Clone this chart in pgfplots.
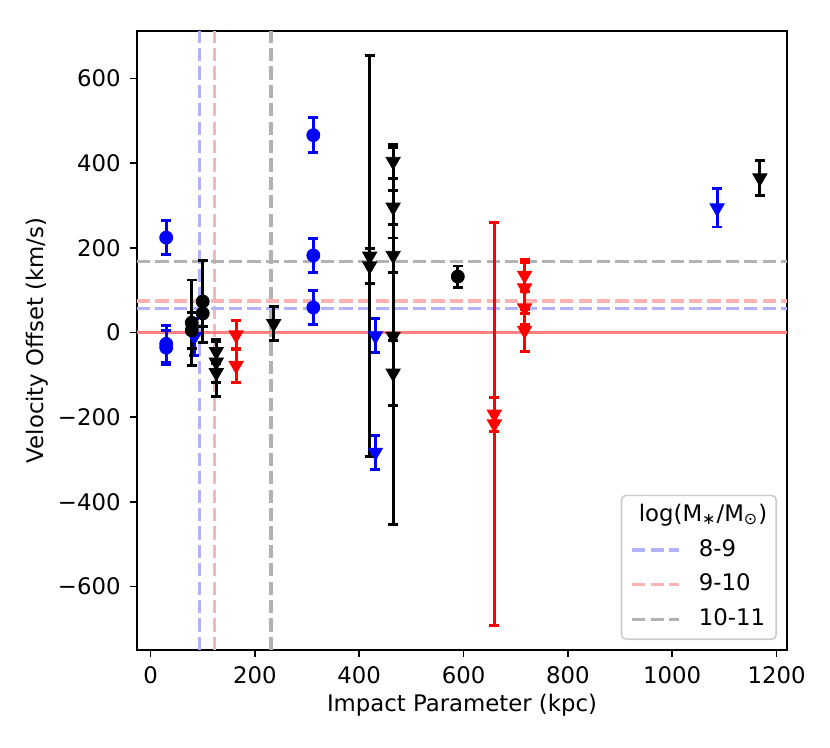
\documentclass[border=0pt]{standalone}
\usepackage{fontspec}
\setmainfont{DejaVu Sans}
\usepackage{pgfplots}
\pgfplotsset{compat=1.18}
\definecolor{lblue}{rgb}{0.7,0.7,1}
\definecolor{lred}{rgb}{1,0.7,0.7}
\definecolor{lgrey}{rgb}{0.7,0.7,0.7}
\definecolor{mred}{rgb}{1,0.5,0.5}
\definecolor{legframe}{rgb}{0.8,0.8,0.8}
\newcommand{\ff}{\fontsize{11.4}{13.7}\selectfont}
\pgfplotsset{
  ebar/.style={only marks, forget plot, line width=0.4pt,
    error bars/.cd, y dir=both, y explicit,
    error bar style={line width=1.45pt},
    error mark options={rotate=90, line width=1.45pt, mark size=2.5pt},
    /pgfplots/.cd},
  circ/.style={mark=*, mark size=3.25pt, mark options={solid}},
  tri/.style={mark=triangle*, mark size=4.1pt, mark options={solid, rotate=180}},
  refline/.style={line width=1.7pt, dash pattern=on 6.6pt off 2.6pt, forget plot},
}
\begin{document}
\begin{tikzpicture}
\begin{axis}[
  name=ax,
  scale only axis, width=325pt, height=309.5pt,
  xmin=-26, xmax=1220, ymin=-750, ymax=712,
  xtick={0,200,...,1200},
  ytick={-600,-400,-200,0,200,400,600},
  yticklabels={−600,−400,−200,0,200,400,600},
  tick pos=left, tick align=outside,
  major tick length=3.5pt,
  every tick/.style={line width=0.8pt, black},
  axis line style={line width=0.8pt},
  /pgf/number format/assume math mode=true,
  /pgf/number format/1000 sep={},
  ticklabel style={font=\ff},
  xticklabel style={yshift=-1.5pt},
  yticklabel style={xshift=-1.2pt},
  xlabel={Impact Parameter (kpc)},
  ylabel={Velocity Offset (km/s)},
  label style={font=\ff},
  xlabel style={at={(axis description cs:0.5,-0.089)}, anchor=center},
  ylabel style={at={(axis description cs:-0.1538,0.5)}, anchor=center},
  legend style={at={(1,0)}, anchor=south east, xshift=-5pt, yshift=5pt,
    draw=legframe, line width=0.8pt, rounded corners=2.3pt, fill=white,
    font=\ff, row sep=6.3pt, column sep=9pt, inner xsep=4.5pt, inner ysep=4.5pt,
    nodes={inner sep=0pt, text height=8.5pt, text depth=2.5pt}},
  legend cell align=left,
  legend image code/.code={\draw[#1] (0pt,0pt) -- (23.5pt,0pt);},
]
% reference lines
\addplot[refline, lblue] coordinates {(94,-750) (94,712)};
\addplot[refline, lred] coordinates {(122,-750) (122,712)};
\addplot[refline, lgrey] coordinates {(231,-750) (231,712)};
\addplot[line width=1.6pt, mred, forget plot] coordinates {(-26,0) (1220,0)};
\addplot[refline, lblue] coordinates {(-26,56) (1220,56)};
\addplot[refline, lred] coordinates {(-26,74) (1220,74)};
\addplot[refline, lgrey] coordinates {(-26,167) (1220,167)};

% blue circles
\addplot[blue, circ, ebar] table[y error index=2] {
x y e
30 224 40
30 -27 43
30 -36 40
312 466 41
312 182 40
312 59 41
};
% blue triangles
\addplot[blue, tri, ebar] table[y error index=2] {
x y e
84 -10 44
431 -8 40
431 -283 40
1086 294 45
};
% red triangles
\addplot[red, tri, ebar] table[y error index=2] {
x y e
164 -6 34
164 -78 40
659 -193 40
659 -216 476
717 135 38
717 105 60
717 58 40
717 5 50
};
% black circles
\addplot[black, circ, ebar] table[y error index=2] {
x y e
79 23 101
79 5 42
100 73 96
100 45 30
589 132 25
};
% black triangles
\addplot[black, tri, ebar] table[y error index=2] {
x y e
126 -45 28
126 -70 48
126 -95 57
236 21 41
420 180 474
420 157 41
465 404 40
465 296 40
465 182 41
465 -9 445
465 -96 76
1168 365 41
};

\addlegendimage{legend image code/.code={}}
\addlegendentry{\hspace{-30pt}log(M\textsubscript{∗}/M\textsubscript{⊙})}
\addlegendimage{lblue, line width=1.7pt, dash pattern=on 6.6pt off 2.6pt}
\addlegendentry{8-9}
\addlegendimage{lred, line width=1.7pt, dash pattern=on 6.6pt off 2.6pt}
\addlegendentry{9-10}
\addlegendimage{lgrey, line width=1.7pt, dash pattern=on 6.6pt off 2.6pt}
\addlegendentry{10-11}
\end{axis}
\pgfresetboundingbox
\path[use as bounding box] ([xshift=-68.5pt,yshift=-48.5pt]ax.south west) rectangle ([xshift=21.5pt,yshift=15.5pt]ax.north east);
\end{tikzpicture}
\end{document}
